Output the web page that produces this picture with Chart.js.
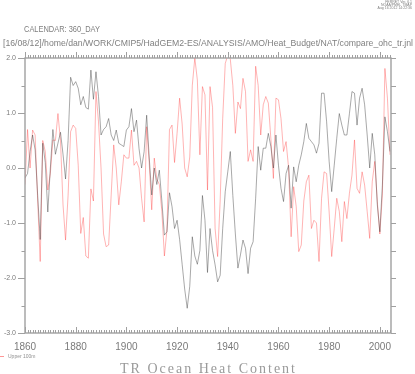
<!doctype html>
<html lang="en">
<head>
<meta charset="utf-8">
<title>TR Ocean Heat Content</title>
<style>
  * { margin: 0; padding: 0; }
  body { background: #fff; }
  canvas { display: block; }
</style>
</head>
<body>
<canvas id="myChart" width="415" height="374"></canvas>
<script src="https://cdn.jsdelivr.net/npm/chart.js@4.4.0/dist/chart.umd.min.js"></script>
<script>
// data, one value per year starting at firstYear
const firstYear = 1860;
const totalOhc = [
  -0.18, -0.1, 0.3, 0.6, 0.33, -0.5, -1.3, 0.45, 0.1, -0.8,
  0.0, 0.7, 0.25, 0.45, 0.65, 0.25, -0.2, 0.5, 1.65, 1.5,
  1.57, 1.45, 1.15, 1.3, 1.1, 1.07, 1.78, 1.25, 1.75, 1.3,
  0.6, 0.7, 0.75, 0.9, 0.6, 0.5, 0.69, 0.45, 0.42, 0.39,
  0.69, 0.75, 1.08, 0.66, 0.87, 0.35, 0.0, 0.3, 0.96, 0.2,
  -0.49, 0.0, -0.3, -0.04, -0.6, -1.22, -1.16, -0.45, -0.7, -1.1,
  -0.95, -1.3, -1.75, -2.2, -2.55, -2.15, -1.25, -1.6, -1.75, -1.5,
  -0.5, -0.95, -1.9, -1.1, -1.5, -1.76, -2.07, -1.95, -1.1, -0.43,
  -0.07, 0.3, -0.5, -1.2, -1.82, -1.58, -1.31, -1.46, -1.92, -1.46,
  -1.34, -0.55, 0.39, -0.04, 0.36, 0.36, 0.63, 0.39, 0.0, 0.6,
  0.05, -0.37, -0.61, -0.1, 0.05, -0.73, 0.02, -0.25, 0.05, 0.24,
  0.48, 0.81, 0.54, 0.48, 0.42, 0.27, 0.45, 1.36, 1.36, 0.84,
  0.12, -0.43, 0.05, 0.54, 0.99, 0.78, 0.6, 0.6, 0.99, 1.39,
  1.36, 0.78, 1.27, 1.45, 1.15, 0.6, 0.0, 0.63, 0.24, -0.67,
  -1.16, -0.31, 0.93, 0.66, 0.3
];
const upper100m = [
  -0.3, 0.7, 0.0, 0.69, 0.6, -0.6, -1.7, 0.5, 0.3, -0.4,
  -0.1, 0.51, 0.5, 0.99, 0.5, -0.67, -1.31, -0.5, 0.66, 0.78,
  0.72, 0.05, -1.19, -0.9, -1.6, -1.64, -0.38, -0.6, 1.39, 0.84,
  0.0, -1.2, -1.43, -1.4, -0.49, 0.42, 0.0, -0.67, -0.25, 0.24,
  0.18, 0.18, 0.69, 0.05, 0.12, 0.0, -0.55, -0.98, 0.75, 0.1,
  -0.76, 0.18, -0.2, -0.3, -0.79, -1.6, -1.13, 0.7, 0.78, 0.1,
  0.63, 1.27, 0.8, 0.0, -0.16, 0.2, 1.5, 2.0, 1.6, 0.24,
  1.48, 1.33, -0.4, 1.48, 1.1, -1.1, -1.61, -0.6, 0.9, 1.9,
  2.05, 1.98, 1.5, 0.63, 1.2, 1.08, 1.63, 1.39, 0.12, 0.33,
  0.12, 1.85, 1.5, 0.6, 1.15, 1.3, 1.18, 0.54, -0.19, 1.27,
  1.24, 0.9, 0.3, 0.48, 0.0, -1.25, -0.34, -0.7, -1.52, -1.4,
  -0.6, -0.25, -0.13, -1.1, -0.95, -1.0, -1.7, -0.55, -0.07, -0.1,
  -0.8, -1.61, -1.1, -0.55, -0.79, -1.34, -0.61, -0.92, -0.46, -0.13,
  0.51, -0.37, -0.46, -0.07, -0.31, -0.79, -1.28, -0.25, 0.12, -0.61,
  -1.2, -0.49, 1.81, 1.27, 0.24
];
const xTickYears = [1860, 1880, 1900, 1920, 1940, 1960, 1980, 2000];
const yTickValues = [2, 1, 0, -1, -2, -3];
const yTickLabels = ['2.0', '1.0', '0.0', '-1.0', '-2.0', '-3.0'];

const toPoints = (arr) => arr.map((v, i) => ({x: firstYear + i, y: v}));

const axisGrey = '#a0a0a0';
const textGrey = '#7a7a7a';

// frame, ticks and all the Ferret text
const ferretFrame = {
  id: 'ferretFrame',
  afterDraw(chart) {
    const { ctx, chartArea: {top, bottom, left, right}, scales: {x, y} } = chart;
    ctx.save();
    ctx.strokeStyle = axisGrey;
    ctx.lineWidth = 1.4;
    ctx.strokeRect(left, top, right - left, bottom - top);

    // x ticks, top and bottom
    ctx.lineWidth = 1;
    ctx.beginPath();
    for (let yr = 1860; yr <= 2004; yr++) {
      const px = Math.round(x.getPixelForValue(yr)) + 0.5;
      const len = (yr % 20 === 0) ? 6 : 3;
      ctx.moveTo(px, top); ctx.lineTo(px, top - len);
      ctx.moveTo(px, bottom); ctx.lineTo(px, bottom - len);
    }
    // y ticks every 0.5, left and right
    for (let v = -3; v <= 2; v += 0.5) {
      const py = Math.round(y.getPixelForValue(v)) + 0.5;
      const major = Number.isInteger(v);
      ctx.moveTo(left, py); ctx.lineTo(left - (major ? 7 : 3.5), py);
      ctx.moveTo(right, py); ctx.lineTo(right + 5, py);
    }
    ctx.stroke();

    ctx.fillStyle = textGrey;
    ctx.textBaseline = 'middle';
    ctx.textAlign = 'right';
    ctx.font = '7px "Liberation Sans"';
    yTickValues.forEach((v, i) => {
      ctx.fillText(yTickLabels[i], 16, y.getPixelForValue(v));
    });

    ctx.textAlign = 'center';
    ctx.font = '10px "Liberation Sans"';
    xTickYears.forEach((yr) => {
      ctx.fillText(String(yr), x.getPixelForValue(yr), 347);
    });

    // header
    ctx.textAlign = 'left';
    ctx.font = '9px "Liberation Sans"';
    ctx.fillStyle = '#808080';
    ctx.fillText('CALENDAR: 360_DAY', 24, 30, 76);
    ctx.fillText('[16/08/12]/home/dan/WORK/CMIP5/HadGEM2-ES/ANALYSIS/AMO/Heat_Budget/NAT/compare_ohc_tr.jnl', 3, 44, 410);

    ctx.textAlign = 'right';
    ctx.font = '3.5px "Liberation Sans"';
    ctx.fillText('FERRET Ver. 6.1', 412, 2);
    ctx.fillText('NOAA/PMEL TMAP', 412, 5);
    ctx.fillText('Aug 16 2012 14:22:36', 412, 8.5);

    // legend
    ctx.strokeStyle = 'rgba(255, 80, 80, 0.6)';
    ctx.beginPath();
    ctx.moveTo(0, 356.5); ctx.lineTo(4, 356.5);
    ctx.stroke();
    ctx.textAlign = 'left';
    ctx.font = '5px "Liberation Sans"';
    ctx.fillStyle = '#909090';
    ctx.fillText('Upper 100m', 8, 357, 34);

    // title, spread out letter by letter
    const title = 'TR Ocean Heat Content';
    ctx.font = '14px "Liberation Serif"';
    ctx.fillStyle = '#9a9a9a';
    ctx.textBaseline = 'alphabetic';
    const w = ctx.measureText(title).width;
    const gap = (175 - w) / (title.length - 1);
    let tx = 120;
    for (const ch of title) {
      ctx.fillText(ch, tx, 373);
      tx += ctx.measureText(ch).width + gap;
    }
    ctx.restore();
  }
};

const config = {
  type: 'line',
  data: {
    datasets: [
      {
        label: 'Total',
        data: toPoints(totalOhc),
        borderColor: 'rgba(50, 50, 50, 0.42)',
        borderWidth: 1,
        pointRadius: 0,
        tension: 0
      },
      {
        label: 'Upper 100m',
        data: toPoints(upper100m),
        borderColor: 'rgba(255, 40, 40, 0.35)',
        borderWidth: 1,
        pointRadius: 0,
        tension: 0
      }
    ]
  },
  options: {
    responsive: false,
    animation: false,
    layout: {
      padding: { left: 25, right: 24, top: 58, bottom: 41 }
    },
    scales: {
      x: { type: 'linear', min: 1860, max: 2004.4, display: false },
      y: { min: -3, max: 2, display: false }
    },
    plugins: {
      legend: { display: false },
      tooltip: { enabled: false }
    }
  },
  plugins: [ferretFrame]
};

const myChart = new Chart(document.getElementById('myChart'), config);
</script>
</body>
</html>
